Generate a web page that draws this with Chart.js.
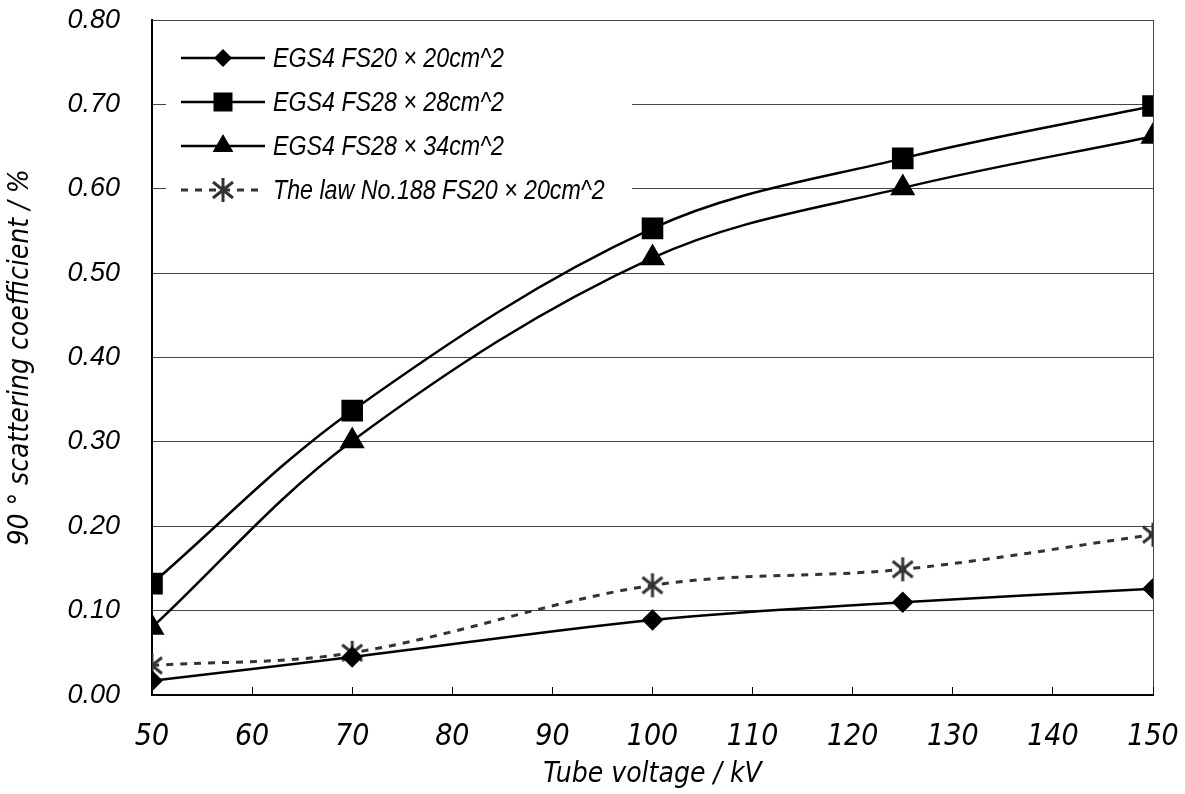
<!DOCTYPE html>
<html>
<head>
<meta charset="utf-8">
<script src="https://cdn.jsdelivr.net/npm/chart.js@4/dist/chart.umd.min.js"></script>
<style>
  body { margin: 0; background: #fff; }
  #wrap { width: 1185px; height: 794px; }
</style>
</head>
<body>
<div id="wrap"><canvas id="grafico" width="1185" height="794"></canvas></div>
<script>
const voltages = [50, 70, 100, 125, 150]
const fs20x20 = [0.017, 0.045, 0.089, 0.110, 0.126]
const fs28x28 = [0.132, 0.337, 0.553, 0.636, 0.698]
const fs28x34 = [0.080, 0.301, 0.518, 0.601, 0.662]
const law188 = [0.035, 0.050, 0.130, 0.149, 0.190]
const xTicks = [50, 60, 70, 80, 90, 100, 110, 120, 130, 140, 150]
const yTicks = [0, 0.1, 0.2, 0.3, 0.4, 0.5, 0.6, 0.7, 0.8]
const seriesNames = [
    'EGS4 FS20 \u00d7 20cm^2',
    'EGS4 FS28 \u00d7 28cm^2',
    'EGS4 FS28 \u00d7 34cm^2',
    'The law No.188 FS20 \u00d7 20cm^2'
]

const narrow = '"Liberation Sans Narrow", "DejaVu Sans Condensed", "Liberation Sans", sans-serif'

function pts(values) {
    return voltages.map((v, i) => ({ x: v, y: values[i] }))
}

// six-armed asterisk marker
function makeStar(color) {
    const c = document.createElement('canvas')
    c.width = 26
    c.height = 26
    const g = c.getContext('2d')
    g.strokeStyle = color
    g.lineWidth = 3
    g.beginPath()
    g.moveTo(13, 1); g.lineTo(13, 25)
    g.moveTo(3, 5); g.lineTo(23, 21)
    g.moveTo(23, 5); g.lineTo(3, 21)
    g.stroke()
    return c
}
const star = makeStar('#333')

function drawMarker(ctx, style, x, y) {
    ctx.fillStyle = '#000'
    ctx.beginPath()
    if (style === 'rectRot') {
        ctx.moveTo(x, y - 9); ctx.lineTo(x + 9, y); ctx.lineTo(x, y + 9); ctx.lineTo(x - 9, y)
        ctx.closePath(); ctx.fill()
    } else if (style === 'rect') {
        ctx.rect(x - 9.5, y - 9.5, 19, 19); ctx.fill()
    } else if (style === 'triangle') {
        ctx.moveTo(x, y - 12); ctx.lineTo(x + 10.4, y + 6); ctx.lineTo(x - 10.4, y + 6)
        ctx.closePath(); ctx.fill()
    } else {
        ctx.drawImage(star, x - 13, y - 13)
    }
}

const boxLegend = {
    id: 'boxLegend',
    afterDatasetsDraw(chart) {
        const c = chart.ctx
        c.save()
        c.fillStyle = '#fff'
        c.fillRect(166, 22, 466, 186)
        chart.data.datasets.forEach((ds, i) => {
            const y = 58 + i * 44
            c.strokeStyle = ds.borderColor
            c.lineWidth = ds.borderWidth
            c.setLineDash(ds.borderDash || [])
            c.beginPath()
            c.moveTo(181, y)
            c.lineTo(265, y)
            c.stroke()
            c.setLineDash([])
            drawMarker(c, ds.legendMarker, 223, y)
            // narrow italic text like the original
            c.save()
            c.translate(273, y + 1)
            c.scale(0.86, 1)
            c.fillStyle = '#000'
            c.font = 'italic 27px "Liberation Sans", Arial, sans-serif'
            c.textBaseline = 'middle'
            c.textAlign = 'left'
            c.fillText(seriesNames[i], 0, 0)
            c.restore()
        })
        c.restore()
    }
}

const ctx = document.getElementById('grafico')

new Chart(ctx, {
    type: 'line',
    data: {
        datasets: [
            {
                label: seriesNames[0],
                data: pts(fs20x20),
                borderColor: '#000',
                backgroundColor: '#000',
                borderWidth: 2.5,
                pointStyle: 'rectRot',
                pointRadius: 9,
                legendMarker: 'rectRot'
            },
            {
                label: seriesNames[1],
                data: pts(fs28x28),
                borderColor: '#000',
                backgroundColor: '#000',
                borderWidth: 2.5,
                pointStyle: 'rect',
                pointRadius: 13.5,
                legendMarker: 'rect'
            },
            {
                label: seriesNames[2],
                data: pts(fs28x34),
                borderColor: '#000',
                backgroundColor: '#000',
                borderWidth: 2.5,
                pointStyle: 'triangle',
                pointRadius: 12,
                legendMarker: 'triangle'
            },
            {
                label: seriesNames[3],
                data: pts(law188),
                borderColor: '#333',
                backgroundColor: '#333',
                borderWidth: 3,
                borderDash: [7, 7],
                pointStyle: star,
                pointRadius: 13,
                legendMarker: 'star'
            }
        ]
    },
    options: {
        responsive: false,
        animation: false,
        layout: { padding: { top: 20, right: 32, left: 0, bottom: 0 } },
        elements: {
            line: { tension: 0.35 },
            point: { borderWidth: 0, hoverRadius: 0 }
        },
        plugins: {
            legend: { display: false },
            tooltip: { enabled: false }
        },
        scales: {
            x: {
                type: 'linear',
                min: 50,
                max: 150,
                afterBuildTicks: (s) => { s.ticks = xTicks.map(v => ({ value: v })) },
                afterFit: (s) => {
                    s.height = 99
                    s.paddingLeft = 0
                    s.paddingRight = 0
                },
                border: { color: '#000', width: 2 },
                grid: {
                    color: (c) => c.index === xTicks.length - 1 ? '#444' : 'rgba(0,0,0,0)',
                    tickColor: '#000',
                    tickLength: -8,
                    lineWidth: 1
                },
                ticks: {
                    color: '#000',
                    padding: 32,
                    maxRotation: 0,
                    font: { family: narrow, size: 30, style: 'italic' }
                },
                title: {
                    display: true,
                    text: 'Tube voltage / kV',
                    color: '#000',
                    padding: { top: 0, bottom: 2 },
                    font: { family: narrow, size: 28, style: 'italic' }
                }
            },
            y: {
                min: 0,
                max: 0.8,
                afterBuildTicks: (s) => { s.ticks = yTicks.map(v => ({ value: v })) },
                afterFit: (s) => {
                    s.width = 152
                    s.paddingTop = 0
                    s.paddingBottom = 0
                },
                border: { color: '#000', width: 2 },
                grid: {
                    color: '#444',
                    lineWidth: 1,
                    drawTicks: false
                },
                ticks: {
                    color: '#000',
                    padding: 32,
                    callback: (v) => v.toFixed(2),
                    font: { family: '"Liberation Sans", Arial, sans-serif', size: 27, style: 'italic' }
                },
                title: {
                    display: true,
                    text: '90 \u00b0 scattering coefficient / %',
                    color: '#000',
                    padding: { top: 4, bottom: 0 },
                    font: { family: narrow, size: 28, style: 'italic' }
                }
            }
        }
    },
    plugins: [boxLegend]
})
</script>
</body>
</html>
